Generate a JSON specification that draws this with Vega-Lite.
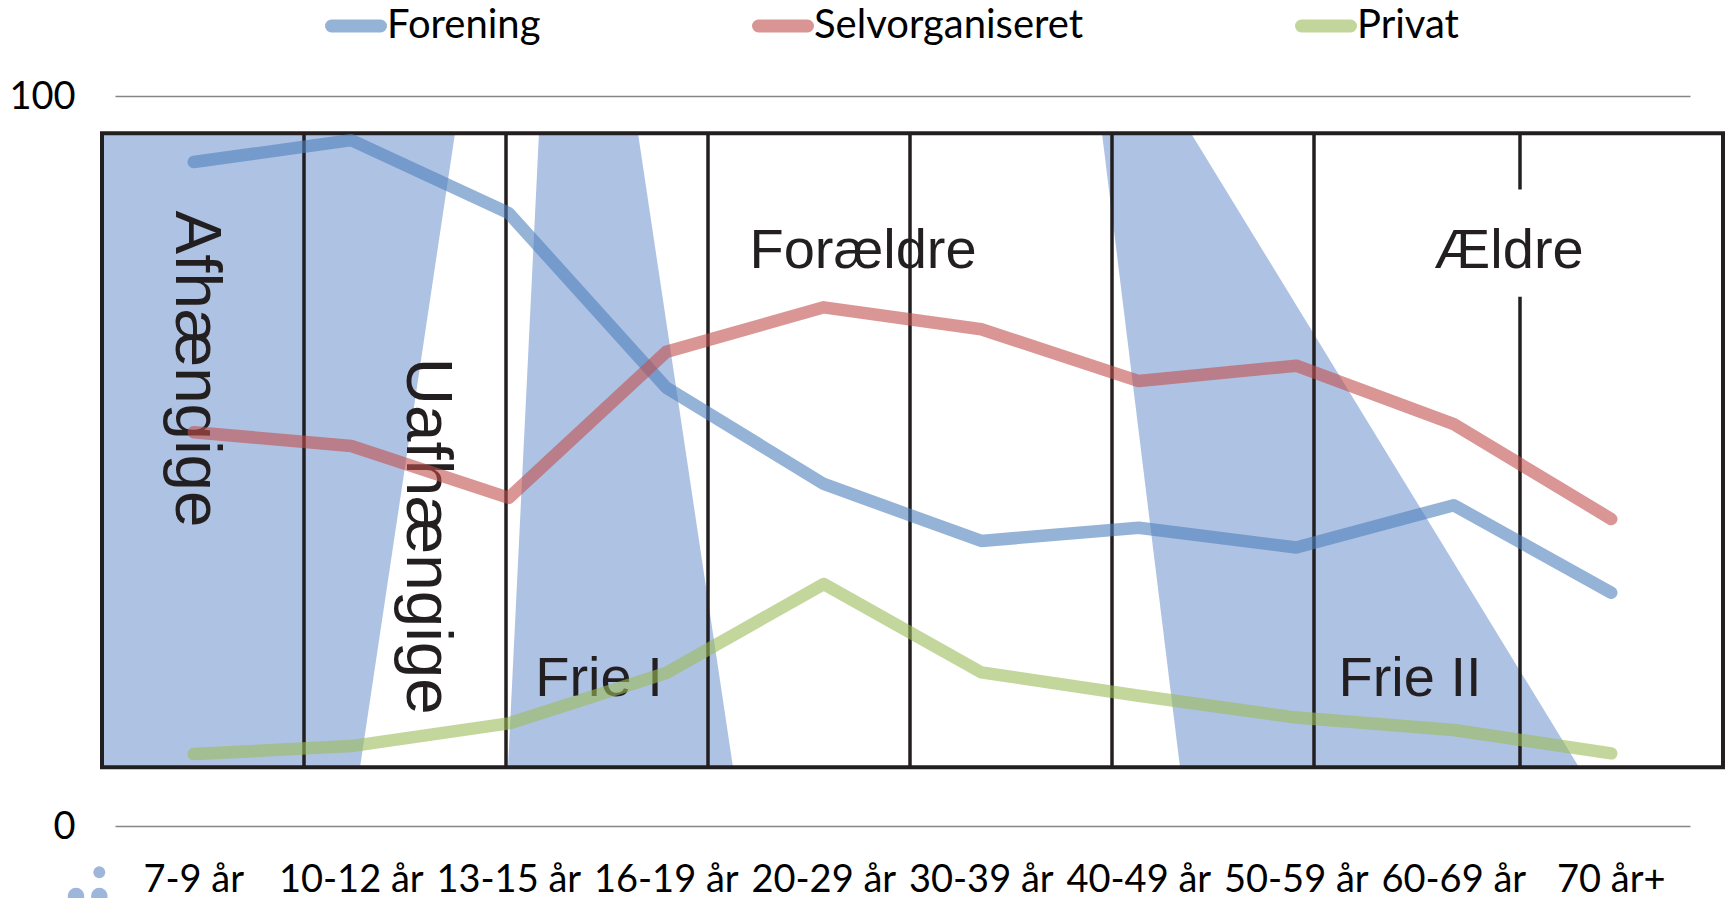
{
"$schema":"https://vega.github.io/schema/vega-lite/v6.json",
"autosize":{"type":"none"},
"padding":{"left":115,"top":96,"right":39,"bottom":72},
"width":1575,"height":730,
"background":"white",
"datasets":{
"series":[
{"alder":"7-9 år","type":"Forening","pct":90.95},{"alder":"10-12 år","type":"Forening","pct":93.95},{"alder":"13-15 år","type":"Forening","pct":83.95},{"alder":"16-19 år","type":"Forening","pct":60.05},{"alder":"20-29 år","type":"Forening","pct":46.85},{"alder":"30-39 år","type":"Forening","pct":39.05},{"alder":"40-49 år","type":"Forening","pct":40.85},{"alder":"50-59 år","type":"Forening","pct":38.15},{"alder":"60-69 år","type":"Forening","pct":43.95},{"alder":"70 år+","type":"Forening","pct":31.95},
{"alder":"7-9 år","type":"Selvorganiseret","pct":53.95},{"alder":"10-12 år","type":"Selvorganiseret","pct":52.05},{"alder":"13-15 år","type":"Selvorganiseret","pct":44.95},{"alder":"16-19 år","type":"Selvorganiseret","pct":64.95},{"alder":"20-29 år","type":"Selvorganiseret","pct":71.05},{"alder":"30-39 år","type":"Selvorganiseret","pct":68.05},{"alder":"40-49 år","type":"Selvorganiseret","pct":60.95},{"alder":"50-59 år","type":"Selvorganiseret","pct":63.05},{"alder":"60-69 år","type":"Selvorganiseret","pct":55.05},{"alder":"70 år+","type":"Selvorganiseret","pct":42.05},
{"alder":"7-9 år","type":"Privat","pct":9.85},{"alder":"10-12 år","type":"Privat","pct":10.95},{"alder":"13-15 år","type":"Privat","pct":14.05},{"alder":"16-19 år","type":"Privat","pct":20.95},{"alder":"20-29 år","type":"Privat","pct":33.15},{"alder":"30-39 år","type":"Privat","pct":21.05},{"alder":"40-49 år","type":"Privat","pct":17.85},{"alder":"50-59 år","type":"Privat","pct":14.85},{"alder":"60-69 år","type":"Privat","pct":13.15},{"alder":"70 år+","type":"Privat","pct":9.95}
],
"felter":[
{"navn":"Afhaengige","y":94.9,"fra":-13,"til":340},{"navn":"Afhaengige","y":8.05,"fra":-13,"til":245},
{"navn":"FrieI","y":94.9,"fra":424,"til":523},{"navn":"FrieI","y":8.05,"fra":393,"til":618},
{"navn":"FrieII","y":94.9,"fra":987,"til":1076},{"navn":"FrieII","y":8.05,"fra":1065,"til":1464}
],
"linjer":[{"x":-13},{"x":189},{"x":391},{"x":593},{"x":795},{"x":997},{"x":1199},{"x":1405},{"x":1608}]
},
"layer":[
{"data":{"name":"felter"},"transform":[{"filter":"datum.navn==='Afhaengige'"}],"mark":{"type":"area","orient":"horizontal","color":"#AEC2E4","clip":false},
"encoding":{"y":{"field":"y","type":"quantitative","scale":{"domain":[0,100]},"axis":{"values":[0,100],"grid":true,"gridColor":"#868686","gridWidth":1.5,"domain":false,"ticks":false,"labelFont":"Lato","labelFontSize":38,"labelColor":"#000","labelPadding":40,"labelOffset":1.5,"title":null}},
"x":{"field":"fra","type":"quantitative","scale":{"domain":[0,1575]},"axis":null},"x2":{"field":"til"}}},
{"data":{"name":"felter"},"transform":[{"filter":"datum.navn==='FrieI'"}],"mark":{"type":"area","orient":"horizontal","color":"#AEC2E4","clip":false},
"encoding":{"y":{"field":"y","type":"quantitative","scale":{"domain":[0,100]}},"x":{"field":"fra","type":"quantitative","scale":{"domain":[0,1575]},"axis":null},"x2":{"field":"til"}}},
{"data":{"name":"felter"},"transform":[{"filter":"datum.navn==='FrieII'"}],"mark":{"type":"area","orient":"horizontal","color":"#AEC2E4","clip":false},
"encoding":{"y":{"field":"y","type":"quantitative","scale":{"domain":[0,100]}},"x":{"field":"fra","type":"quantitative","scale":{"domain":[0,1575]},"axis":null},"x2":{"field":"til"}}},
{"data":{"name":"linjer"},"mark":{"type":"rule","color":"#231F20","strokeWidth":3.5},
"encoding":{"x":{"field":"x","type":"quantitative","scale":{"domain":[0,1575]},"axis":null},"y":{"datum":94.9,"type":"quantitative","scale":{"domain":[0,100]}},"y2":{"datum":8.05}}},
{"data":{"values":[{"x":-13,"x2":1608,"y":94.9,"y2":8.05}]},"mark":{"type":"rect","fillOpacity":0,"stroke":"#231F20","strokeWidth":4},
"encoding":{"x":{"field":"x","type":"quantitative","scale":{"domain":[0,1575]},"axis":null},"x2":{"field":"x2"},"y":{"field":"y","type":"quantitative","scale":{"domain":[0,100]}},"y2":{"field":"y2"}}},
{"data":{"values":[{"x":1395,"x2":1415,"y":87.2,"y2":72.5}]},"mark":{"type":"rect","fill":"white"},
"encoding":{"x":{"field":"x","type":"quantitative","scale":{"domain":[0,1575]},"axis":null},"x2":{"field":"x2"},"y":{"field":"y","type":"quantitative","scale":{"domain":[0,100]}},"y2":{"field":"y2"}}},
{"data":{"values":[
{"tekst":"Forældre","x":748,"y":78.7},{"tekst":"Ældre","x":1394,"y":78.7},{"tekst":"Frie I","x":484,"y":20.2},{"tekst":"Frie II","x":1295,"y":20.2}]},
"mark":{"type":"text","font":"Liberation Sans","fontSize":56,"color":"#231F20","align":"center","baseline":"middle"},
"encoding":{"x":{"field":"x","type":"quantitative","scale":{"domain":[0,1575]},"axis":null},"y":{"field":"y","type":"quantitative","scale":{"domain":[0,100]}},"text":{"field":"tekst"}}},
{"data":{"values":[{"tekst":"Afhængige","x":81,"y":62.6},{"tekst":"Uafhængige","x":312,"y":39.7}]},
"mark":{"type":"text","font":"Liberation Sans","fontSize":65.5,"color":"#231F20","align":"center","baseline":"middle","angle":90},
"encoding":{"x":{"field":"x","type":"quantitative","scale":{"domain":[0,1575]},"axis":null},"y":{"field":"y","type":"quantitative","scale":{"domain":[0,100]}},"text":{"field":"tekst"}}},
{"data":{"values":[{"x":-15.7,"y":-6.34}]},"mark":{"type":"point","filled":true,"size":141,"color":"#9FB6DB","opacity":1,"clip":false},
"encoding":{"x":{"field":"x","type":"quantitative","scale":{"domain":[0,1575]},"axis":null},"y":{"field":"y","type":"quantitative","scale":{"domain":[0,100]}}}},
{"data":{"values":[{"x":-39,"y":-9.6},{"x":-15.7,"y":-9.6}]},"mark":{"type":"point","filled":true,"size":272,"color":"#9FB6DB","opacity":1,"clip":false},
"encoding":{"x":{"field":"x","type":"quantitative","scale":{"domain":[0,1575]},"axis":null},"y":{"field":"y","type":"quantitative","scale":{"domain":[0,100]}}}},
{"data":{"name":"series"},"mark":{"type":"line","strokeWidth":12.5,"strokeCap":"round","strokeJoin":"round","opacity":0.6},
"encoding":{"x":{"field":"alder","type":"nominal","sort":null,"scale":{"type":"band","paddingInner":0,"paddingOuter":0},"axis":{"orient":"bottom","title":null,"domain":false,"ticks":false,"labelAngle":0,"labelFont":"Lato","labelFontSize":38,"labelColor":"#000","labelPadding":35,"labelOverlap":false,"labelLimit":0}},
"y":{"field":"pct","type":"quantitative","scale":{"domain":[0,100]}},
"color":{"field":"type","type":"nominal","sort":["Forening","Selvorganiseret","Privat"],"scale":{"domain":["Forening","Selvorganiseret","Privat"],"range":["#4F81BD","#C0504D","#9BBB59"]},
"legend":{"orient":"none","legendX":210,"legendY":-101,"direction":"horizontal","columns":3,"title":null,"columnPadding":191,"symbolType":"stroke","symbolSize":2400,"symbolStrokeWidth":13,"symbolOpacity":0.6,"labelFont":"Lato","labelFontSize":40,"labelColor":"#000","labelOffset":0,"labelLimit":0,"encoding":{"symbols":{"strokeCap":{"value":"round"}}}}}}}
],
"resolve":{"scale":{"x":"independent"}},
"config":{"view":{"stroke":null}}
}
